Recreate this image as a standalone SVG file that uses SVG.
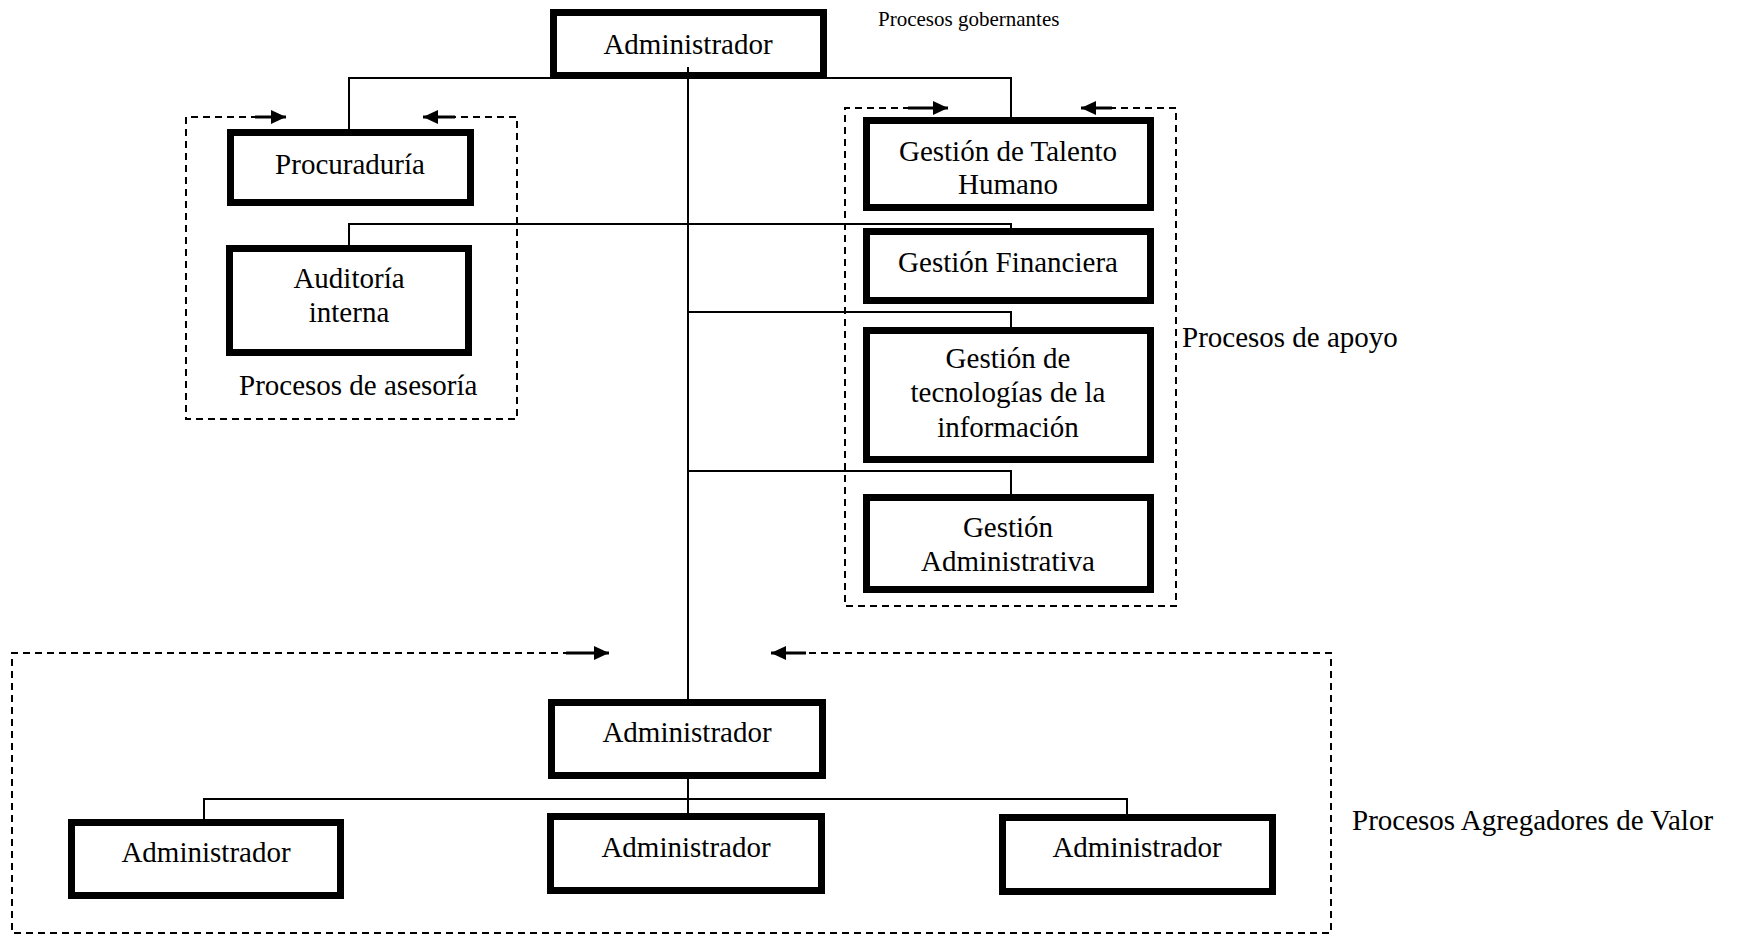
<svg xmlns="http://www.w3.org/2000/svg" width="1750" height="934" viewBox="0 0 1750 934">
  <style>
    .box { fill: #ffffff; stroke: #000000; stroke-width: 7; }
    .lbl { font-family: "Liberation Serif", "Times New Roman", serif; font-size: 29px; fill: #000000; text-anchor: middle; }
    .cap { font-family: "Liberation Serif", "Times New Roman", serif; font-size: 29px; fill: #000000; }
    .small { font-size: 21px; }
    .wire { fill: none; stroke: #000000; stroke-width: 2; }
    .group { fill: none; stroke: #000000; stroke-width: 2; stroke-dasharray: 7 5; }
    .flow { fill: none; stroke: #000000; stroke-width: 3; marker-end: url(#head); }
  </style>
  <defs>
    <marker id="head" markerUnits="userSpaceOnUse" markerWidth="16" markerHeight="14" refX="15" refY="7" orient="auto">
      <path d="M0,0 L15,7 L0,14 Z" fill="#000000"/>
    </marker>
  </defs>
  <rect width="1750" height="934" fill="#ffffff"/>

  <!-- dashed process groups with their flow arrows -->
  <g id="groups">
    <path class="group" d="M258,117 H186 V419 H517 V117 H455"/>
    <line class="flow" x1="255" y1="117" x2="286" y2="117"/>
    <line class="flow" x1="455" y1="117" x2="423" y2="117"/>

    <path class="group" d="M910,108 H845 V606 H1176 V108 H1110"/>
    <line class="flow" x1="908" y1="108" x2="948" y2="108"/>
    <line class="flow" x1="1112" y1="108" x2="1081" y2="108"/>

    <path class="group" d="M570,653 H12 V933 H1331 V653 H804"/>
    <line class="flow" x1="566" y1="653" x2="609" y2="653"/>
    <line class="flow" x1="806" y1="653" x2="771" y2="653"/>
  </g>

  <!-- nodes -->
  <g id="admin-top">
    <rect class="box" x="553.5" y="12.5" width="270" height="63"/>
    <text class="lbl" x="688" y="54">Administrador</text>
  </g>
  <g id="procuraduria">
    <rect class="box" x="230.5" y="132.5" width="240" height="70"/>
    <text class="lbl" x="350" y="174">Procuraduría</text>
  </g>
  <g id="auditoria">
    <rect class="box" x="229.5" y="248.5" width="239" height="104"/>
    <text class="lbl" x="349" y="288">Auditoría</text>
    <text class="lbl" x="349" y="322">interna</text>
  </g>
  <g id="talento-humano">
    <rect class="box" x="866.5" y="120.5" width="284" height="87"/>
    <text class="lbl" x="1008" y="161">Gestión de Talento</text>
    <text class="lbl" x="1008" y="194">Humano</text>
  </g>
  <g id="financiera">
    <rect class="box" x="866.5" y="231.5" width="284" height="69"/>
    <text class="lbl" x="1008" y="272">Gestión Financiera</text>
  </g>
  <g id="tecnologias">
    <rect class="box" x="866.5" y="330.5" width="284" height="129"/>
    <text class="lbl" x="1008" y="368">Gestión de</text>
    <text class="lbl" x="1008" y="402">tecnologías de la</text>
    <text class="lbl" x="1008" y="437">información</text>
  </g>
  <g id="administrativa">
    <rect class="box" x="866.5" y="497.5" width="284" height="92"/>
    <text class="lbl" x="1008" y="537">Gestión</text>
    <text class="lbl" x="1008" y="571">Administrativa</text>
  </g>
  <g id="admin-valor">
    <rect class="box" x="551.5" y="702.5" width="271" height="73"/>
    <text class="lbl" x="687" y="742">Administrador</text>
  </g>
  <g id="admin-left">
    <rect class="box" x="71.5" y="822.5" width="269" height="73"/>
    <text class="lbl" x="206" y="862">Administrador</text>
  </g>
  <g id="admin-middle">
    <rect class="box" x="550.5" y="816.5" width="271" height="74"/>
    <text class="lbl" x="686" y="857">Administrador</text>
  </g>
  <g id="admin-right">
    <rect class="box" x="1002.5" y="817.5" width="270" height="74"/>
    <text class="lbl" x="1137" y="857">Administrador</text>
  </g>

  <!-- connectors -->
  <g id="connectors">
    <path class="wire" d="M349,131 V78 H1011 V117"/>
    <path class="wire" d="M688,67 V699"/>
    <path class="wire" d="M349,245 V224 H1011 V228"/>
    <path class="wire" d="M688,312 H1011 V327"/>
    <path class="wire" d="M688,471 H1011 V494"/>
    <path class="wire" d="M688,779 V813"/>
    <path class="wire" d="M204,819 V799 H1127 V814"/>
  </g>

  <!-- group captions -->
  <g id="captions">
    <text class="cap small" x="878" y="26">Procesos gobernantes</text>
    <text class="cap" x="239" y="395">Procesos de asesoría</text>
    <text class="cap" x="1182" y="347">Procesos de apoyo</text>
    <text class="cap" x="1352" y="830">Procesos Agregadores de Valor</text>
  </g>
</svg>
